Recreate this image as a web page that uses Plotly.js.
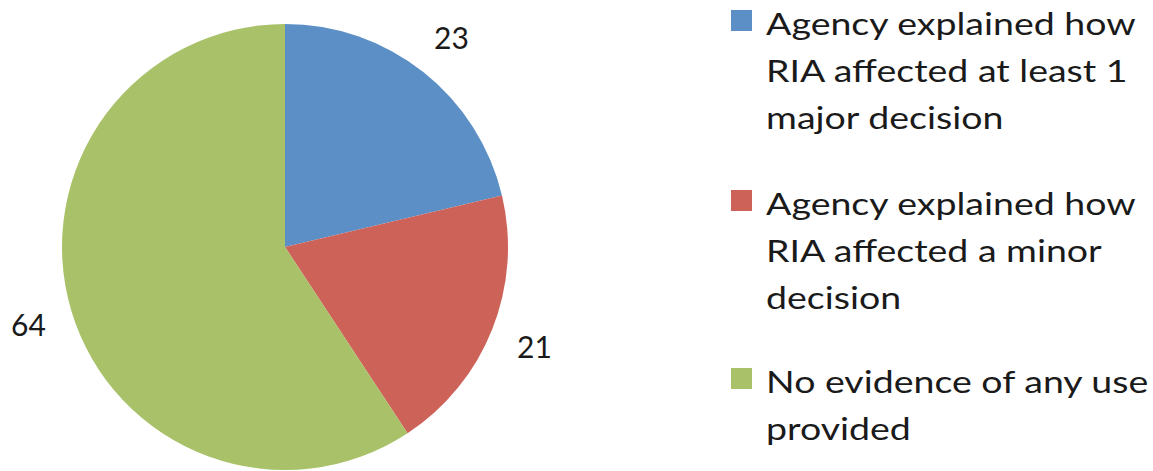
<!DOCTYPE html>
<html>
<head>
<meta charset="utf-8">
<script src="https://cdn.plot.ly/plotly-3.0.1.min.js"></script>
<style>html,body{margin:0;padding:0;background:#fff;}#chart{width:1153px;height:471px;}</style>
</head>
<body>
<div id="chart"></div>
<script>
const categories = [
  "Agency explained how<br>RIA affected at least 1<br>major decision",
  "Agency explained how<br>RIA affected a minor<br>decision",
  "No evidence of any use<br>provided"
];
const values = [23, 21, 64];
const colors = ["#5B8FC6", "#CD6259", "#A9C26A"];

const W = 1153, H = 471;
const FONT = "Lato, 'Open Sans', sans-serif";
const FS = 30;
const LFS = 31;
const TXT = "#1a1a1a";
const LEGEND_STRETCH = 1.21;

// pie geometry (pixels)
const cx = 285, cy = 247, R = 223;
const dom = {x: [(cx - R) / W, (cx + R) / W], y: [1 - (cy + R) / H, 1 - (cy - R) / H]};

const annotations = [];
const shapes = [];

// value labels placed at slice mid-angles, outside the pie
const total = values.reduce((a, b) => a + b, 0);
let cum = 0;
const labelR = 268;
values.forEach((v) => {
  const mid = (cum + v / 2) / total * 2 * Math.PI;
  cum += v;
  const px = cx + labelR * Math.sin(mid);
  const py = cy - labelR * Math.cos(mid);
  annotations.push({
    xref: "paper", yref: "paper", x: px / W, y: 1 - py / H,
    xanchor: "center", yanchor: "middle", showarrow: false,
    text: String(v), font: {family: FONT, size: FS, color: TXT}
  });
});
const nValueLabels = annotations.length;

// legend built from categories and colors
const legX = 765, sqX0 = 731, sqSize = 21;
const firstBaseline = [35, 215, 393];
const lineStep = 47;
categories.forEach((cat, i) => {
  const lines = cat.split("<br>");
  lines.forEach((ln, j) => {
    const base = firstBaseline[i] + j * lineStep;
    annotations.push({
      xref: "paper", yref: "paper", x: legX / W, y: 1 - (base + 8) / H,
      xanchor: "left", yanchor: "bottom", showarrow: false,
      text: ln, font: {family: FONT, size: LFS, color: TXT}, borderpad: 0
    });
  });
  const top = firstBaseline[i] - 25;
  shapes.push({
    type: "rect", xref: "paper", yref: "paper",
    x0: sqX0 / W, x1: (sqX0 + sqSize) / W,
    y0: 1 - (top + sqSize) / H, y1: 1 - top / H,
    fillcolor: colors[i], line: {width: 0}
  });
});

const data = [{
  type: "pie",
  labels: categories,
  values: values,
  marker: {colors: colors, line: {width: 0}},
  sort: false,
  direction: "clockwise",
  rotation: 0,
  textinfo: "none",
  hoverinfo: "label+value",
  domain: dom,
  automargin: false
}];

const layout = {
  width: W, height: H,
  margin: {l: 0, r: 0, t: 0, b: 0},
  paper_bgcolor: "#ffffff",
  showlegend: false,
  annotations: annotations,
  shapes: shapes,
  font: {family: FONT, color: TXT}
};

Plotly.newPlot("chart", data, layout, {displayModeBar: false, staticPlot: true}).then(() => {
  // widen legend text horizontally to match the reference's wide typeface
  document.querySelectorAll("#chart g.annotation").forEach((g) => {
    const idx = +g.getAttribute("data-index");
    if (idx >= nValueLabels) {
      const t = g.querySelector("text.annotation-text");
      if (t) {
        t.style.transformBox = "fill-box";
        t.style.transformOrigin = "left center";
        t.style.transform = "scaleX(" + LEGEND_STRETCH + ")";
      }
    }
  });
});
</script>
</body>
</html>
